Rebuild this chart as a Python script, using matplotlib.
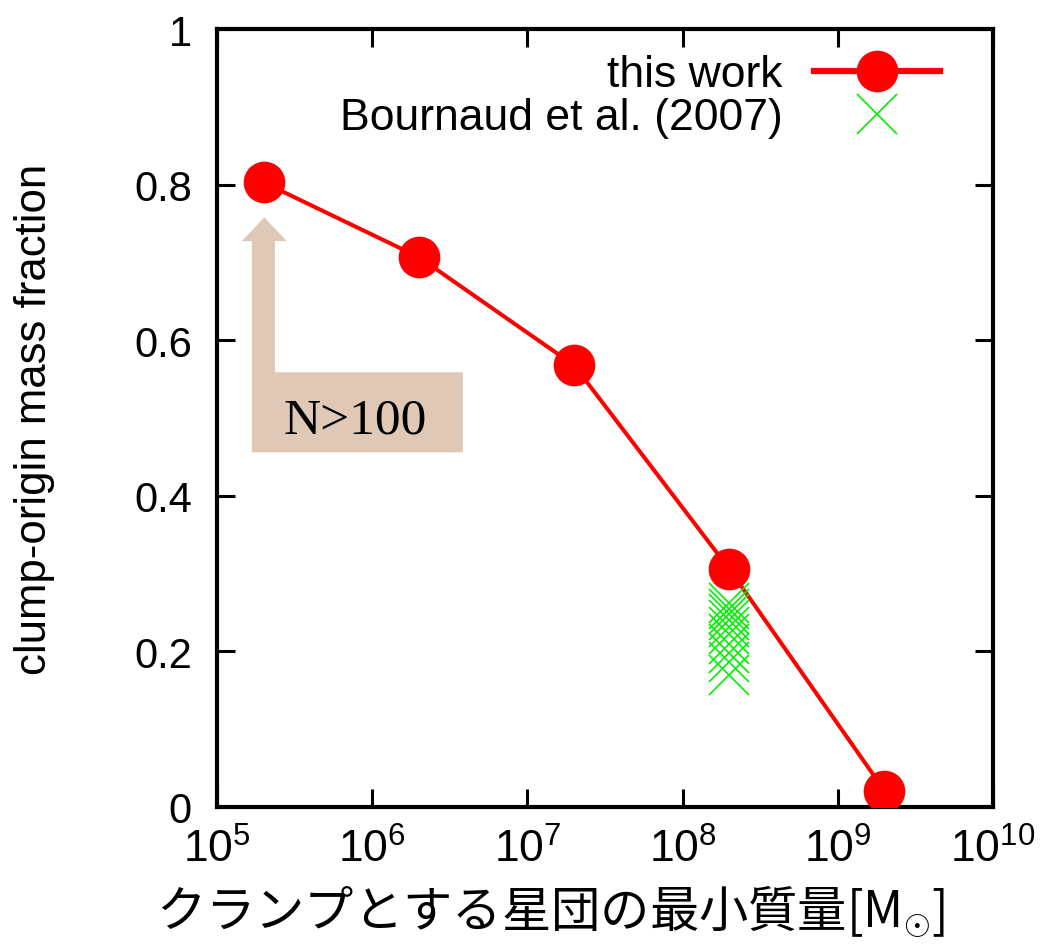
import matplotlib
matplotlib.use("Agg")
import matplotlib.pyplot as plt
import matplotlib.patches as patches
from matplotlib.lines import Line2D
from matplotlib.ticker import LogLocator, FixedLocator, NullFormatter

plt.rcParams['font.family'] = ['Liberation Sans', 'DejaVu Sans']
plt.rcParams['mathtext.fontset'] = 'custom'
plt.rcParams['mathtext.rm'] = 'Liberation Sans'
plt.rcParams['mathtext.it'] = 'Liberation Sans'

# this work: minimum cluster mass vs clump-origin mass fraction
min_mass = [2e5, 2e6, 2e7, 2e8, 2e9]
fraction = [0.803, 0.707, 0.568, 0.306, 0.021]

# Bournaud et al. (2007)
bournaud_mass = [2e8] * 10
bournaud_frac = [0.262, 0.255, 0.248, 0.240, 0.232, 0.222, 0.210, 0.198, 0.186, 0.170]

xtick_vals = [1e5, 1e6, 1e7, 1e8, 1e9, 1e10]
xtick_labels = [r'$\mathregular{10^{%d}}$' % e for e in range(5, 11)]
ytick_vals = [0, 0.2, 0.4, 0.6, 0.8, 1]
ytick_labels = ['0', '0.2', '0.4', '0.6', '0.8', '1']

red = '#ff0000'
green = '#00ee00'
tan = '#dfc8b5'

fig = plt.figure(figsize=(10.43, 9.45), dpi=100)
ax = fig.add_axes([0.208, 0.145, 0.744, 0.823])

# N>100 arrow annotation (axes fraction coords)
arrow = patches.Polygon([(0.045, 0.456), (0.045, 0.7275), (0.0322, 0.7275),
                         (0.061, 0.758), (0.0902, 0.7275), (0.0747, 0.7275),
                         (0.0747, 0.559), (0.317, 0.559), (0.317, 0.456)],
                        closed=True, transform=ax.transAxes, facecolor=tan,
                        edgecolor='none', zorder=1)
ax.add_patch(arrow)
ax.text(0.178, 0.497, 'N>100', transform=ax.transAxes, ha='center', va='center',
        fontsize=37, family=['Liberation Serif', 'DejaVu Serif'], zorder=2)

ax.plot(min_mass, fraction, color=red, lw=2.9, zorder=3)
ax.plot(bournaud_mass, bournaud_frac, ls='none', marker='x', ms=29, mew=1.2,
        color=green, zorder=4)
ax.plot(min_mass, fraction, ls='none', marker='o', ms=29, color=red, zorder=5)

ax.set_xscale('log')
ax.set_xlim(1e5, 1e10)
ax.set_ylim(0, 1)
ax.xaxis.set_major_locator(FixedLocator(xtick_vals))
ax.set_xticklabels(xtick_labels)
ax.xaxis.set_minor_locator(LogLocator(base=10, subs=[2, 5, 8]))
ax.xaxis.set_minor_formatter(NullFormatter())
ax.set_yticks(ytick_vals)
ax.set_yticklabels(ytick_labels)

ax.tick_params(axis='both', which='major', direction='in', length=13, width=2.2,
               labelsize=30, top=True, right=True)
ax.tick_params(axis='both', which='minor', direction='in', length=6.5, width=2.2,
               top=True, right=True)
ax.tick_params(axis='y', pad=18)
ax.tick_params(axis='x', pad=15, labelsize=32)
for s in ax.spines.values():
    s.set_linewidth(3)

ax.set_ylabel('clump-origin mass fraction', fontsize=31.5)
ax.yaxis.set_label_coords(-0.235, 0.5)
ax.yaxis.label.set_va('center')
ax.set_xlabel('クランプとする星団の最小質量[M$_{\\odot}$]', fontsize=35.5,
              family=['Noto Sans CJK JP', 'DejaVu Sans'])
ax.xaxis.set_label_coords(0.43, -0.134)
ax.xaxis.label.set_va('center')

handles = [Line2D([], [], color=red, lw=4.5, marker='o', ms=29),
           Line2D([], [], color=green, ls='none', marker='x', ms=29, mew=1.2)]
ax.legend(handles, ['this work', 'Bournaud et al. (2007)'], loc='upper right',
          bbox_to_anchor=(0.932, 0.968), frameon=False, markerfirst=False,
          fontsize=32, handlelength=2.85, handletextpad=0.7, labelspacing=0.05,
          borderpad=0, borderaxespad=0)

fig.savefig('out.png', dpi=100, facecolor='white')
